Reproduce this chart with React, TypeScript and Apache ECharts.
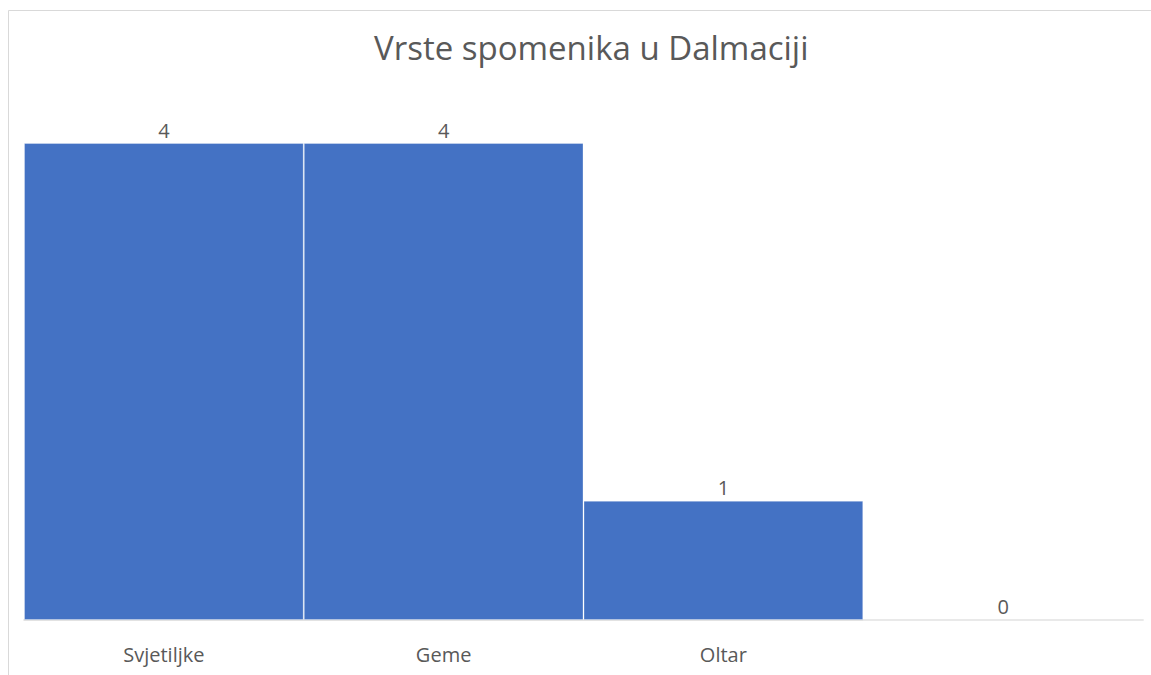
import React, { useEffect, useRef } from "react";
import * as echarts from "echarts";

const categories = ["Svjetiljke", "Geme", "Oltar", ""];
const values = [4, 4, 1, 0];
const titleText = "Vrste spomenika u Dalmaciji";

export default function App() {
  const ref = useRef<HTMLDivElement>(null);
  useEffect(() => {
    if (!ref.current) return;
    const chart = echarts.init(ref.current, null, { renderer: "svg" });
    chart.setOption({
      animation: false,
      backgroundColor: "#ffffff",
      textStyle: { fontFamily: "Open Sans" },
      title: {
        text: titleText,
        left: 369,
        top: 26,
        textStyle: { fontSize: 33, fontWeight: "normal", color: "#595959", fontFamily: "Open Sans" },
      },
      graphic: [
        { type: "line", shape: { x1: 8.5, y1: 10.5, x2: 1151, y2: 10.5 }, style: { stroke: "#d9d9d9", lineWidth: 1 } },
        { type: "line", shape: { x1: 8.5, y1: 10.5, x2: 8.5, y2: 675 }, style: { stroke: "#d9d9d9", lineWidth: 1 } },
      ],
      grid: { left: 24, right: 8, top: 143, bottom: 55, containLabel: false },
      xAxis: {
        type: "category",
        data: categories,
        axisLine: { show: true, lineStyle: { color: "#d9d9d9", width: 1.5 } },
        axisTick: { show: false },
        axisLabel: { color: "#595959", fontSize: 20, margin: 24, fontFamily: "Open Sans" },
      },
      yAxis: {
        type: "value",
        min: 0,
        max: 4,
        show: false,
        splitLine: { show: false },
      },
      series: [
        {
          type: "bar",
          data: values,
          barCategoryGap: "0%",
          barGap: "0%",
          itemStyle: { color: "#4472c4", borderColor: "rgba(255,255,255,0.3)", borderWidth: 1 },
          label: {
            show: true,
            position: "top",
            distance: 3,
            color: "#595959",
            fontSize: 20,
            fontFamily: "Open Sans",
          },
        },
      ],
    });
    return () => chart.dispose();
  }, []);
  return (
    <div
      ref={ref}
      style={{ position: "fixed", left: 0, top: 0, width: 1151, height: 675 }}
    />
  );
}
